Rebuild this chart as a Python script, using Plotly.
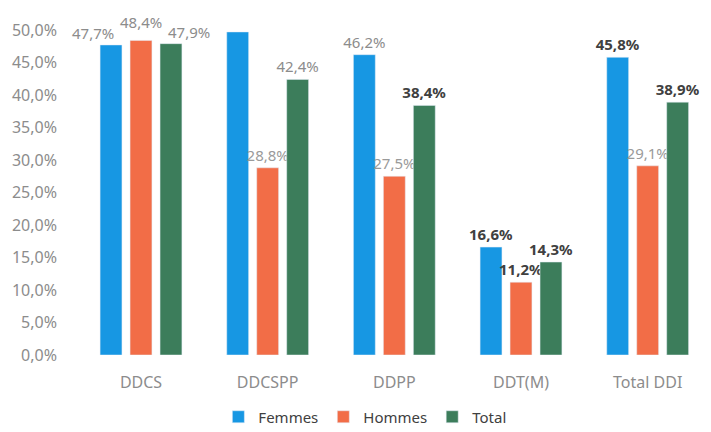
import plotly.graph_objects as go

categories = ["DDCS", "DDCSPP", "DDPP", "DDT(M)", "Total DDI"]
femmes = [47.7, 49.7, 46.2, 16.6, 45.8]
hommes = [48.4, 28.8, 27.5, 11.2, 29.1]
total = [47.9, 42.4, 38.4, 14.3, 38.9]
femmes_labels = ["", "", "46,2%", "<b>16,6%</b>", "<b>45,8%</b>"]
hommes_labels = ["", "28,8%", "27,5%", "<b>11,2%</b>", "29,1%"]
total_labels = ["", "42,4%", "<b>38,4%</b>", "<b>14,3%</b>", "<b>38,9%</b>"]

# DDCS labels placed as annotations (staggered like in the reference)
ddcs_labels = ["47,7%", "48,4%", "47,9%"]

GRAY = "#8c8c8c"
DARK = "#404040"
femmes_colors = [GRAY, GRAY, GRAY, DARK, DARK]
hommes_colors = [GRAY, "#9a9a9a", "#9a9a9a", DARK, "#9a9a9a"]
total_colors = [GRAY, GRAY, DARK, DARK, DARK]

FONT = "Noto Sans"

fig = go.Figure()
for name, vals, labels, tcols, color in [
    ("Femmes", femmes, femmes_labels, femmes_colors, "#1797e3"),
    ("Hommes", hommes, hommes_labels, hommes_colors, "#f26d47"),
    ("Total", total, total_labels, total_colors, "#3c7d5b"),
]:
    fig.add_trace(go.Bar(
        name=name, x=categories, y=vals, marker_color=color,
        text=labels, texttemplate="%{text}", textposition="outside",
        textfont=dict(family=FONT, size=15, color=tcols),
        constraintext="none",
        cliponaxis=False, hoverinfo="skip",
    ))

for val, lab, xs, ys in [
    (femmes[0], ddcs_labels[0], -48, 0),
    (hommes[0], ddcs_labels[1], 0, 6),
    (total[0], ddcs_labels[2], 48, 0),
]:
    fig.add_annotation(x=categories[0], y=val, xref="x", yref="y", text=lab,
                       showarrow=False, xanchor="center", yanchor="bottom",
                       xshift=xs, yshift=ys,
                       font=dict(family=FONT, size=15, color=GRAY))

fig.update_layout(
    width=711, height=432,
    margin=dict(l=70, r=0, t=30, b=77, autoexpand=False),
    paper_bgcolor="white", plot_bgcolor="white",
    barmode="group", bargap=0.29, bargroupgap=0.27,
    separators=", ",
    font=dict(family=FONT, color=GRAY),
    showlegend=True,
    legend=dict(orientation="h", x=0.46, xanchor="center", y=-0.14, yanchor="top",
                font=dict(family=FONT, size=15, color="#404040"),
                itemwidth=30, traceorder="normal"),
)
fig.update_xaxes(showgrid=False, showline=False, ticks="", ticklabelstandoff=16,
                 automargin=False,
                 tickfont=dict(family=FONT, size=16, color=GRAY))
fig.update_yaxes(range=[0, 50], dtick=5, tickformat=".1f", ticksuffix="%",
                 showgrid=False, showline=False, zeroline=False, ticks="",
                 ticklabelstandoff=12, automargin=False,
                 tickfont=dict(family=FONT, size=16, color=GRAY))

fig.write_html("out.html", config={"displayModeBar": False},
               post_script="document.body.style.margin='0';document.body.style.overflow='hidden';")
